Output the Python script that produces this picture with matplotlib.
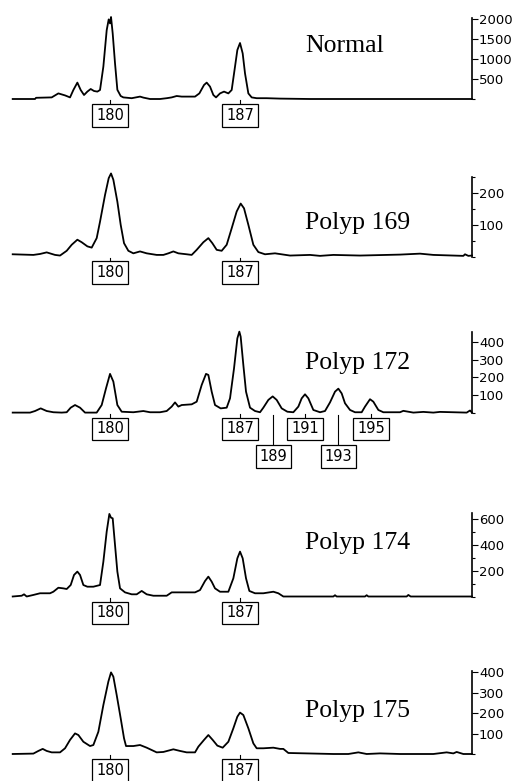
import numpy as np
import matplotlib.pyplot as plt
from matplotlib.transforms import blended_transform_factory

plt.rcParams["font.family"] = "DejaVu Sans"

# Traces: (scan point, fluorescence units)
normal_trace = [(38, 0), (105, 0), (108, 30), (155, 40), (175, 140), (185, 115), (195, 90),
                (210, 40), (220, 225), (232, 410), (242, 225), (252, 100), (262, 185),
                (272, 250), (282, 200), (292, 185), (300, 225), (310, 810), (320, 1720),
                (326, 1990), (330, 1890), (333, 2050), (338, 1640), (345, 890), (352, 230),
                (362, 75), (370, 40), (395, 20), (420, 60), (430, 35), (450, 0), (480, 0),
                (500, 20), (515, 40), (530, 75), (545, 60), (585, 60), (598, 140), (612, 350),
                (620, 410), (630, 310), (640, 100), (648, 40), (660, 140), (672, 185),
                (685, 140), (695, 225), (705, 810), (712, 1225), (720, 1400), (728, 1140),
                (735, 640), (745, 140), (755, 40), (770, 20), (800, 20), (840, 10), (930, 0),
                (1416, 0)]

polyp169_trace = [(38, 7), (100, 5), (120, 8), (140, 13), (165, 5), (180, 3), (200, 18),
                  (215, 37), (232, 53), (245, 45), (262, 32), (275, 28), (290, 58), (300, 110),
                  (315, 194), (326, 247), (333, 262), (340, 242), (352, 173), (362, 100),
                  (372, 42), (385, 18), (400, 10), (420, 16), (440, 10), (470, 5), (490, 5),
                  (505, 10), (520, 16), (535, 10), (560, 7), (575, 5), (590, 21), (610, 45),
                  (625, 58), (637, 42), (650, 21), (665, 18), (680, 37), (695, 89), (710, 142),
                  (722, 167), (732, 152), (745, 100), (760, 37), (775, 14), (795, 7), (825, 10),
                  (870, 3), (930, 5), (960, 2), (1000, 5), (1080, 3), (1200, 6), (1260, 9),
                  (1300, 5), (1390, 2), (1395, 7), (1405, 2), (1416, 3)]

polyp172_trace = [(38, 0), (90, 0), (105, 9), (122, 24), (140, 9), (160, 2), (185, 0), (200, 2),
                  (212, 28), (225, 43), (240, 28), (255, 0), (290, 0), (305, 43), (318, 138),
                  (330, 220), (340, 176), (352, 43), (365, 5), (400, 2), (430, 9), (450, 2),
                  (480, 2), (500, 9), (515, 34), (525, 58), (535, 34), (545, 43), (575, 47),
                  (590, 62), (605, 157), (618, 220), (625, 214), (635, 119), (645, 43),
                  (662, 24), (680, 28), (690, 81), (702, 251), (712, 422), (718, 460),
                  (722, 431), (730, 270), (738, 119), (750, 28), (765, 9), (780, 2), (790, 28),
                  (805, 72), (818, 92), (830, 72), (845, 24), (862, 5), (880, 2), (895, 34),
                  (905, 81), (915, 104), (925, 81), (940, 15), (960, 2), (975, 9), (990, 58),
                  (1005, 119), (1015, 136), (1025, 109), (1035, 53), (1050, 15), (1065, 2),
                  (1085, 2), (1095, 34), (1110, 76), (1120, 62), (1135, 15), (1150, 2),
                  (1200, 2), (1210, 10), (1240, 0), (1270, 4), (1300, 0), (1320, 4), (1400, 0),
                  (1410, 12), (1416, 0)]

polyp174_trace = [(38, 0), (65, 6), (72, 17), (80, 0), (100, 12), (120, 25), (150, 25),
                  (160, 37), (175, 68), (190, 63), (200, 58), (212, 89), (222, 167), (232, 193),
                  (240, 167), (250, 89), (262, 76), (280, 76), (300, 89), (310, 270), (320, 503),
                  (328, 640), (333, 611), (338, 606), (345, 399), (352, 193), (360, 63),
                  (375, 32), (395, 17), (410, 17), (425, 43), (440, 17), (460, 6), (500, 6),
                  (515, 32), (550, 32), (585, 32), (600, 50), (615, 120), (625, 154), (635, 115),
                  (645, 63), (660, 37), (685, 37), (700, 141), (712, 296), (720, 348), (728, 296),
                  (738, 141), (748, 43), (765, 25), (790, 25), (805, 31), (820, 37), (835, 25),
                  (850, 0), (1000, 0), (1005, 10), (1010, 0), (1095, 0), (1100, 10), (1105, 0),
                  (1220, 0), (1225, 12), (1232, 0), (1416, 0)]

polyp175_trace = [(38, 0), (100, 2), (115, 15), (128, 25), (140, 15), (155, 8), (180, 8),
                  (195, 28), (210, 69), (225, 101), (235, 93), (250, 60), (270, 39), (280, 44),
                  (295, 109), (310, 240), (325, 355), (333, 400), (340, 379), (350, 289),
                  (362, 175), (372, 77), (378, 39), (400, 39), (420, 44), (440, 31), (470, 8),
                  (490, 10), (520, 23), (540, 15), (560, 8), (585, 8), (595, 36), (612, 69),
                  (625, 93), (638, 69), (652, 41), (668, 31), (685, 60), (700, 126), (712, 183),
                  (720, 203), (730, 191), (745, 126), (760, 52), (770, 28), (790, 28), (820, 31),
                  (840, 25), (850, 25), (865, 5), (1000, 0), (1045, 0), (1075, 8), (1100, 0),
                  (1140, 3), (1200, 0), (1300, 0), (1340, 8), (1360, 3), (1370, 10), (1390, 0),
                  (1416, 0)]

# called alleles: (scan point of the peak, size in bp)
normal_alleles = [(330, 180), (720, 187)]
polyp169_alleles = [(330, 180), (720, 187)]
polyp172_alleles = [(330, 180), (720, 187), (820, 189), (915, 191), (1015, 193), (1113, 195)]
polyp174_alleles = [(330, 180), (720, 187)]
polyp175_alleles = [(330, 180), (720, 187)]

sample_names = ["Normal", "Polyp 169", "Polyp 172", "Polyp 174", "Polyp 175"]
traces = [normal_trace, polyp169_trace, polyp172_trace, polyp174_trace, polyp175_trace]
alleles = [normal_alleles, polyp169_alleles, polyp172_alleles, polyp174_alleles,
           polyp175_alleles]
major_ticks = [[500, 1000, 1500, 2000], [100, 200], [100, 200, 300, 400], [200, 400, 600],
               [100, 200, 300, 400]]
minor_ticks = [[0], [0, 50, 150, 250], [0], [0, 100, 300, 500], [0]]
y_max = [2020, 250, 460, 645, 408]

# layout in pixels of the 522x781 figure
W, H = 522, 781
AX_L, AX_R = 12.7, 472
baseline_px = [99, 256.5, 412.6, 596.5, 754]
px_per_unit = [0.04, 0.317, 0.176, 0.129, 0.204]
name_baseline_px = [52, 229.5, 368.5, 548.5, 717.5]

FS_BOX = 10.5
BOX_PAD = 0.26
pad_px = BOX_PAD * FS_BOX * 100 / 72
BOX_W_SCAN = 37 * 3  # box width in scan units (3 scan points per pixel)

fig = plt.figure(figsize=(W / 100, H / 100), dpi=100)

for i in range(5):
    ax_h = y_max[i] * px_per_unit[i]
    ax = fig.add_axes([AX_L / W, 1 - baseline_px[i] / H, (AX_R - AX_L) / W, ax_h / H])
    xs = [p[0] for p in traces[i]]
    ys = [p[1] for p in traces[i]]
    ax.plot(xs, ys, color='black', lw=1.3, clip_on=False)
    ax.set_xlim(38, 1416)
    ax.set_ylim(0, y_max[i])

    for s in ['top', 'left', 'bottom']:
        ax.spines[s].set_visible(False)
    ax.spines['right'].set_linewidth(1.2)
    ax.set_xticks([])
    ax.yaxis.tick_right()
    ax.set_yticks(major_ticks[i])
    ax.set_yticks(minor_ticks[i], minor=True)
    ax.tick_params(axis='y', which='major', direction='out', length=4.5, width=0.8,
                   pad=0.5, labelsize=9.5)
    ax.tick_params(axis='y', which='minor', direction='out', length=2.3, width=0.8)
    ax.patch.set_visible(False)

    # boxed allele sizes under the peaks, dropped a row if they would overlap
    trans = blended_transform_factory(ax.transData, ax.transAxes)
    last_in_row = {}
    for pos, size in alleles[i]:
        row = 0
        while row in last_in_row and pos - last_in_row[row] < BOX_W_SCAN + 6:
            row += 1
        last_in_row[row] = pos
        gap = 5 if row == 0 else 32.5
        start = 1 if row == 0 else 2
        ax.plot([pos, pos], [-start / ax_h, -gap / ax_h], transform=trans, color='black',
                lw=0.8, clip_on=False)
        ax.annotate(str(size), xy=(pos, 0), xycoords=trans, xytext=(0, -(gap + pad_px)),
                    textcoords='offset pixels', ha='center', va='top', fontsize=FS_BOX,
                    bbox=dict(boxstyle='square,pad=%.2f' % BOX_PAD, fc='white', ec='black',
                              lw=0.9))

    fig.text(305 / W, 1 - name_baseline_px[i] / H, sample_names[i], family='Liberation Serif',
             fontsize=18.5, ha='left', va='baseline')

fig.savefig('out.png', dpi=100)
